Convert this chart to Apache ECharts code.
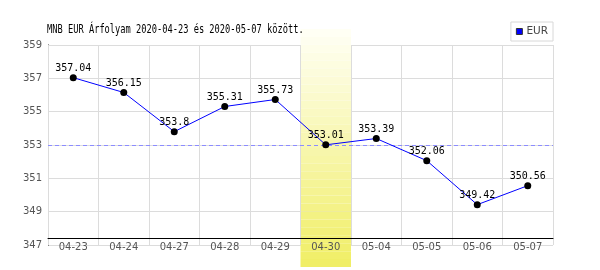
<!DOCTYPE html>
<html><head><meta charset="utf-8">
<script src="https://cdn.jsdelivr.net/npm/echarts@6/dist/echarts.min.js"></script>
<style>html,body{margin:0;padding:0;background:#fff}#c{width:600px;height:270px}</style>
</head><body><div id="c"></div>
<script>
const titleText = 'MNB EUR Árfolyam 2020-04-23 és 2020-05-07 között.';
const seriesName = 'EUR';
const categories = ['04-23','04-24','04-27','04-28','04-29','04-30','05-04','05-05','05-06','05-07'];
const values = [357.04, 356.15, 353.8, 355.31, 355.73, 353.01, 353.39, 352.06, 349.42, 350.56];
const highlightCategory = '04-30';
const yMin = 347, yMax = 359, yInterval = 2;
const refValue = values[categories.indexOf(highlightCategory)];

// band shading: plain-colour slices from light (top) to yellow (bottom)
const bandTop = [255, 255, 244], bandBottom = [240, 238, 102], slices = 30;
const bandSeries = [];
for (let i = 0; i < slices; i++) {
  const t = (slices - 1 - i) / (slices - 1); // i=0 is bottom slice
  const c = bandTop.map((v, k) => Math.round(v + (bandBottom[k] - v) * t));
  bandSeries.push({
    name: 'band' + i, type: 'bar', xAxisIndex: 1, yAxisIndex: 1, stack: 'band', z: 1,
    barCategoryGap: 0, silent: true,
    data: categories.map(cat => cat === highlightCategory ? 1 / slices : '-'),
    itemStyle: {color: 'rgb(' + c.join(',') + ')'}
  });
}

const chart = echarts.init(document.getElementById('c'));
chart.setOption({
  animation: false,
  graphic: [{
    type: 'text', x: 47, y: 30, scaleX: 0.725, z: 10,
    style: {text: titleText, font: '12px "DejaVu Sans Mono"', fill: '#000', textVerticalAlign: 'middle', textAlign: 'left'}
  }],
  legend: {
    right: 47, top: 22,
    data: [{name: seriesName, itemStyle: {color: '#0000ff', borderColor: '#333', borderWidth: 1}}],
    icon: 'rect', itemWidth: 6, itemHeight: 6, itemGap: 4,
    borderColor: '#d8d8d8', borderWidth: 1, padding: [4, 5, 4, 5],
    textStyle: {fontFamily: 'DejaVu Sans', fontSize: 10.5, color: '#444', padding: [0, 0, 0, -1]}
  },
  grid: [
    {left: 48, right: 47, top: 45, bottom: 25},
    {left: 48, right: 47, top: 29, bottom: 3}
  ],
  xAxis: [{
    type: 'category', data: categories, offset: -7, z: 3,
    axisLine: {show: true, lineStyle: {color: '#000', width: 1}},
    axisTick: {show: false},
    axisLabel: {margin: 4, fontFamily: 'DejaVu Sans', fontSize: 10, color: '#555'},
    splitLine: {show: true, lineStyle: {color: '#dcdcdc', width: 1}}
  }, {
    gridIndex: 1, type: 'category', data: categories, show: false
  }],
  yAxis: [{
    type: 'value', min: yMin, max: yMax, interval: yInterval,
    axisLine: {show: true, lineStyle: {color: '#000', width: 1}},
    axisTick: {show: false},
    axisLabel: {margin: 6, fontFamily: 'DejaVu Sans', fontSize: 10, color: '#555'},
    splitLine: {show: true, lineStyle: {color: '#dcdcdc', width: 1}}
  }, {
    gridIndex: 1, type: 'value', min: 0, max: 1, show: false
  }],
  series: bandSeries.concat([{
    name: seriesName, type: 'line', data: values, z: 5,
    lineStyle: {color: '#0000ff', width: 1},
    symbol: 'circle', symbolSize: 7,
    itemStyle: {color: '#000'},
    label: {show: true, position: 'top', distance: 1, fontFamily: 'DejaVu Sans Mono', fontSize: 10, color: '#000'},
    markLine: {
      symbol: 'none', label: {show: false},
      lineStyle: {color: '#8c8cff', type: [4, 3], width: 1},
      data: [{yAxis: refValue}]
    }
  }])
});
</script></body></html>
